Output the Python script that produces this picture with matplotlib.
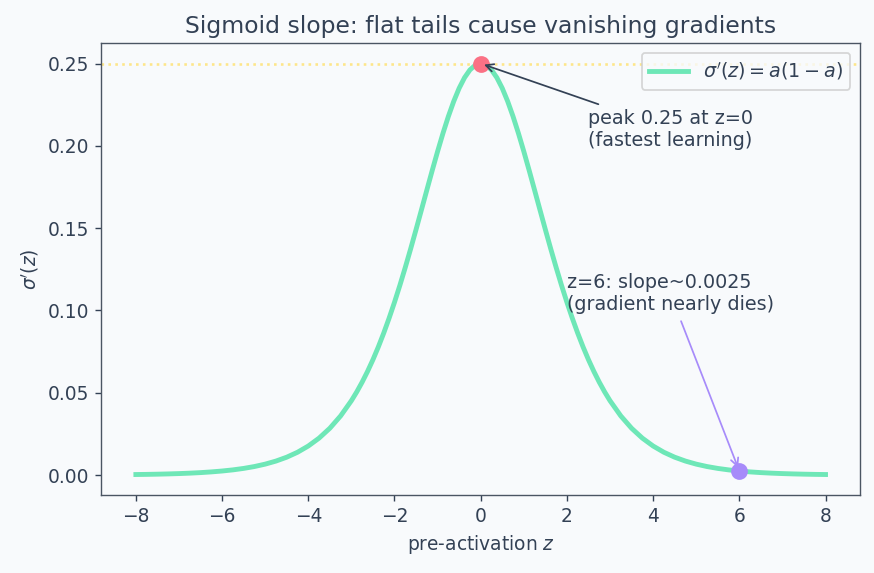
import matplotlib
matplotlib.use("Agg")
import matplotlib.pyplot as plt

# sigma'(z) (finer steps around the peak)
z = [-8.0, -7.75, -7.5, -7.25, -7.0, -6.75, -6.5, -6.25, -6.0, -5.75, -5.5, -5.25,
     -5.0, -4.75, -4.5, -4.25, -4.0, -3.75, -3.5, -3.25,
     -3.0, -2.875, -2.75, -2.625, -2.5, -2.375, -2.25, -2.125,
     -2.0, -1.875, -1.75, -1.625, -1.5, -1.375, -1.25, -1.125,
     -1.0, -0.875, -0.75, -0.625, -0.5, -0.375, -0.25, -0.125,
     0.0, 0.125, 0.25, 0.375, 0.5, 0.625, 0.75, 0.875,
     1.0, 1.125, 1.25, 1.375, 1.5, 1.625, 1.75, 1.875,
     2.0, 2.125, 2.25, 2.375, 2.5, 2.625, 2.75, 2.875, 3.0,
     3.25, 3.5, 3.75, 4.0, 4.25, 4.5, 4.75, 5.0, 5.25, 5.5, 5.75,
     6.0, 6.25, 6.5, 6.75, 7.0, 7.25, 7.5, 7.75, 8.0]
slope = [0.00034, 0.00043, 0.00055, 0.00071, 0.00091, 0.00117, 0.00150, 0.00193, 0.00247,
         0.00316, 0.00405, 0.00519, 0.00665, 0.00851, 0.01087, 0.01386, 0.01766, 0.02245,
         0.02845, 0.03594,
         0.04518, 0.05055, 0.05648, 0.06299, 0.07010, 0.07786, 0.08626, 0.09532,
         0.10499, 0.11528, 0.12613, 0.13744, 0.14915, 0.16109, 0.17310, 0.18502,
         0.19661, 0.20765, 0.21789, 0.22708, 0.23500, 0.24141, 0.24613, 0.24902,
         0.25000, 0.24902, 0.24613, 0.24141, 0.23500, 0.22708, 0.21789, 0.20765,
         0.19661, 0.18502, 0.17310, 0.16109, 0.14915, 0.13744, 0.12613, 0.11528,
         0.10499, 0.09532, 0.08626, 0.07786, 0.07010, 0.06299, 0.05648, 0.05055, 0.04518,
         0.03594, 0.02845, 0.02245, 0.01766, 0.01386, 0.01087, 0.00851, 0.00665, 0.00519,
         0.00405, 0.00316,
         0.00247, 0.00193, 0.00150, 0.00117, 0.00091, 0.00071, 0.00055, 0.00043, 0.00034]

peak_z, peak_s = 0, 0.25
tail_z, tail_s = 6, 0.0025

text_c = '#334155'
bg = '#f8fafc'

plt.rcParams['font.family'] = 'DejaVu Sans'
fig, ax = plt.subplots(figsize=(6.992, 4.584), dpi=125)
fig.patch.set_facecolor(bg)
ax.set_facecolor(bg)

ax.axhline(0.25, color='#fde68a', linestyle=':', linewidth=1.5, zorder=1)
ax.plot(z, slope, color='#6ee7b7', linewidth=2.8, label=r"$\sigma'(z) = a(1-a)$",
        solid_joinstyle='round', zorder=2)
ax.scatter([peak_z], [peak_s], s=75, color='#fb7185', zorder=3)
ax.scatter([tail_z], [tail_s], s=75, color='#a78bfa', zorder=3)

ax.annotate('peak 0.25 at z=0\n(fastest learning)', xy=(peak_z, peak_s), xytext=(2.5, 0.20),
            color=text_c, fontsize=11,
            arrowprops=dict(arrowstyle='->', color=text_c, lw=1))
ax.annotate('z=6: slope~0.0025\n(gradient nearly dies)', xy=(tail_z, tail_s), xytext=(2.0, 0.10),
            color=text_c, fontsize=11,
            arrowprops=dict(arrowstyle='->', color='#a78bfa', lw=1))

ax.set_title('Sigmoid slope: flat tails cause vanishing gradients', fontsize=13.5, color=text_c)
ax.set_xlabel('pre-activation $z$', fontsize=10.75, color=text_c)
ax.set_ylabel(r"$\sigma'(z)$", fontsize=10.75, color=text_c)
ax.tick_params(colors=text_c, labelsize=10.75)
for sp in ax.spines.values():
    sp.set_color('#4b5563')

leg = ax.legend(loc='upper right', fontsize=11, facecolor=bg)
for t in leg.get_texts():
    t.set_color(text_c)

fig.subplots_adjust(left=0.116, right=0.984, top=0.925, bottom=0.136)
fig.savefig('out.png', dpi=125, facecolor=bg)
